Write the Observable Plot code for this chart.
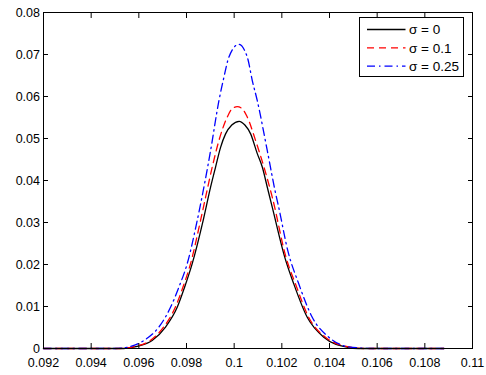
<!DOCTYPE html>
<html>
<head>
<meta charset="utf-8">
<script src="https://cdn.jsdelivr.net/npm/d3@7"></script>
<script src="https://cdn.jsdelivr.net/npm/@observablehq/plot@0.6"></script>
<style>
  html, body { margin: 0; padding: 0; background: #fff; }
  #chart svg { font-family: "Liberation Sans", Arial, sans-serif; }
</style>
</head>
<body>
<div id="chart"></div>
<script>
// ---- data ----
const seriesNames = ["σ = 0", "σ = 0.1", "σ = 0.25"];
const seriesColors = ["#000000", "#ff0000", "#0000ff"];
const seriesDash = [null, "7,5", "8,4,1.5,4"];

const xSigma0 = [0.0920, 0.09536, 0.09593, 0.09656, 0.09712, 0.09761, 0.09792, 0.09824, 0.09870, 0.09901, 0.09922, 0.09943, 0.09964, 0.09990, 0.10021, 0.10045, 0.10069, 0.10097, 0.10118, 0.10139, 0.10160, 0.10214, 0.10250, 0.10306, 0.10376, 0.10474, 0.1052, 0.1088];
const ySigma0 = [0, 0, 0.0005, 0.0019, 0.0051, 0.0098, 0.0146, 0.0202, 0.0305, 0.0384, 0.0432, 0.0479, 0.0511, 0.0532, 0.0541, 0.0532, 0.0511, 0.0464, 0.0432, 0.0384, 0.0336, 0.0214, 0.0154, 0.0075, 0.0027, 0.0003, 0, 0];

const xSigma01 = [0.0920, 0.0952, 0.09585, 0.09648, 0.09704, 0.09753, 0.09785, 0.09817, 0.09859, 0.09880, 0.09908, 0.09936, 0.09971, 0.09990, 0.10013, 0.10035, 0.10055, 0.10090, 0.10125, 0.10160, 0.10219, 0.10257, 0.10312, 0.10383, 0.10488, 0.1055, 0.1088];
const ySigma01 = [0, 0, 0.0005, 0.0019, 0.0051, 0.0098, 0.0146, 0.0202, 0.0305, 0.0360, 0.0432, 0.0495, 0.0551, 0.0570, 0.0576, 0.0570, 0.0551, 0.0495, 0.0432, 0.0360, 0.0214, 0.0154, 0.0075, 0.0027, 0.0003, 0, 0];

const xSigma025 = [0.0920, 0.0950, 0.09565, 0.09621, 0.09684, 0.09733, 0.09768, 0.09803, 0.09845, 0.09873, 0.09901, 0.09936, 0.09957, 0.09978, 0.10019, 0.10055, 0.10076, 0.10097, 0.10139, 0.10174, 0.10187, 0.10225, 0.10271, 0.10327, 0.10397, 0.1048, 0.1058, 0.1088];
const ySigma025 = [0, 0, 0.0005, 0.0019, 0.0051, 0.0098, 0.0146, 0.0202, 0.0305, 0.0384, 0.0471, 0.0590, 0.0646, 0.0694, 0.0724, 0.0694, 0.0638, 0.0590, 0.0471, 0.0369, 0.0336, 0.0233, 0.0154, 0.0075, 0.0027, 0.0004, 0, 0];

const xTicks = [0.092, 0.094, 0.096, 0.098, 0.1, 0.102, 0.104, 0.106, 0.108, 0.11];
const xTickLabels = ["0.092", "0.094", "0.096", "0.098", "0.1", "0.102", "0.104", "0.106", "0.108", "0.11"];
const yTicks = [0, 0.01, 0.02, 0.03, 0.04, 0.05, 0.06, 0.07, 0.08];
const yTickLabels = ["0", "0.01", "0.02", "0.03", "0.04", "0.05", "0.06", "0.07", "0.08"];

// ---- build table ----
const xs = [xSigma0, xSigma01, xSigma025];
const ys = [ySigma0, ySigma01, ySigma025];
const table = [];
xs.forEach((xa, s) => xa.forEach((x, i) => table.push({series: seriesNames[s], s, x, y: ys[s][i]})));

const fmtX = d => xTickLabels[xTicks.indexOf(d)];
const fmtY = d => yTickLabels[yTicks.indexOf(d)];

const lineMarks = seriesNames.map((name, s) =>
  Plot.line(table.filter(d => d.s === s), {
    x: "x", y: "y", curve: "monotone-x",
    stroke: seriesColors[s], strokeWidth: 1.3,
    strokeDasharray: seriesDash[s]
  })
);

const plot = Plot.plot({
  width: 486,
  height: 375,
  marginLeft: 43,
  marginRight: 14,
  marginTop: 12,
  marginBottom: 27,
  style: {fontSize: "12.5px", fontFamily: "Liberation Sans, Arial, sans-serif", background: "#fff", color: "#000"},
  x: {domain: [0.092, 0.11], label: null},
  y: {domain: [0, 0.08], label: null},
  marks: [
    ...lineMarks,
    Plot.frame({stroke: "#000", strokeWidth: 1}),
    Plot.axisX(xTicks, {anchor: "bottom", tickSize: -5, tickPadding: 14.5, tickFormat: fmtX, label: null}),
    Plot.axisX(xTicks, {anchor: "top", tickSize: -5, tickFormat: () => "", label: null}),
    Plot.axisY(yTicks, {anchor: "left", tickSize: -5, tickPadding: 8.5, tickFormat: fmtY, label: null}),
    Plot.axisY(yTicks, {anchor: "right", tickSize: -5, tickFormat: () => "", label: null})
  ]
});
document.getElementById("chart").appendChild(plot);

// ---- legend box (inside the axes, top right) ----
const svg = d3.select(plot);
const lg = svg.append("g").attr("transform", "translate(359.5,17.5)");
lg.append("rect").attr("width", 104).attr("height", 59).attr("fill", "#fff").attr("stroke", "#000").attr("stroke-width", 1);
seriesNames.forEach((name, s) => {
  const yy = 12 + s * 18.3;
  lg.append("line").attr("x1", 7.5).attr("x2", 46).attr("y1", yy).attr("y2", yy)
    .attr("stroke", seriesColors[s]).attr("stroke-width", 1.3)
    .attr("stroke-dasharray", seriesDash[s]);
  lg.append("text").attr("x", 49.5).attr("y", yy).attr("dy", "0.35em")
    .attr("text-anchor", "start")
    .attr("font-size", 13.5).attr("fill", "#000")
    .attr("font-family", "Liberation Sans, Arial, sans-serif").text(name);
});
</script>
</body>
</html>
